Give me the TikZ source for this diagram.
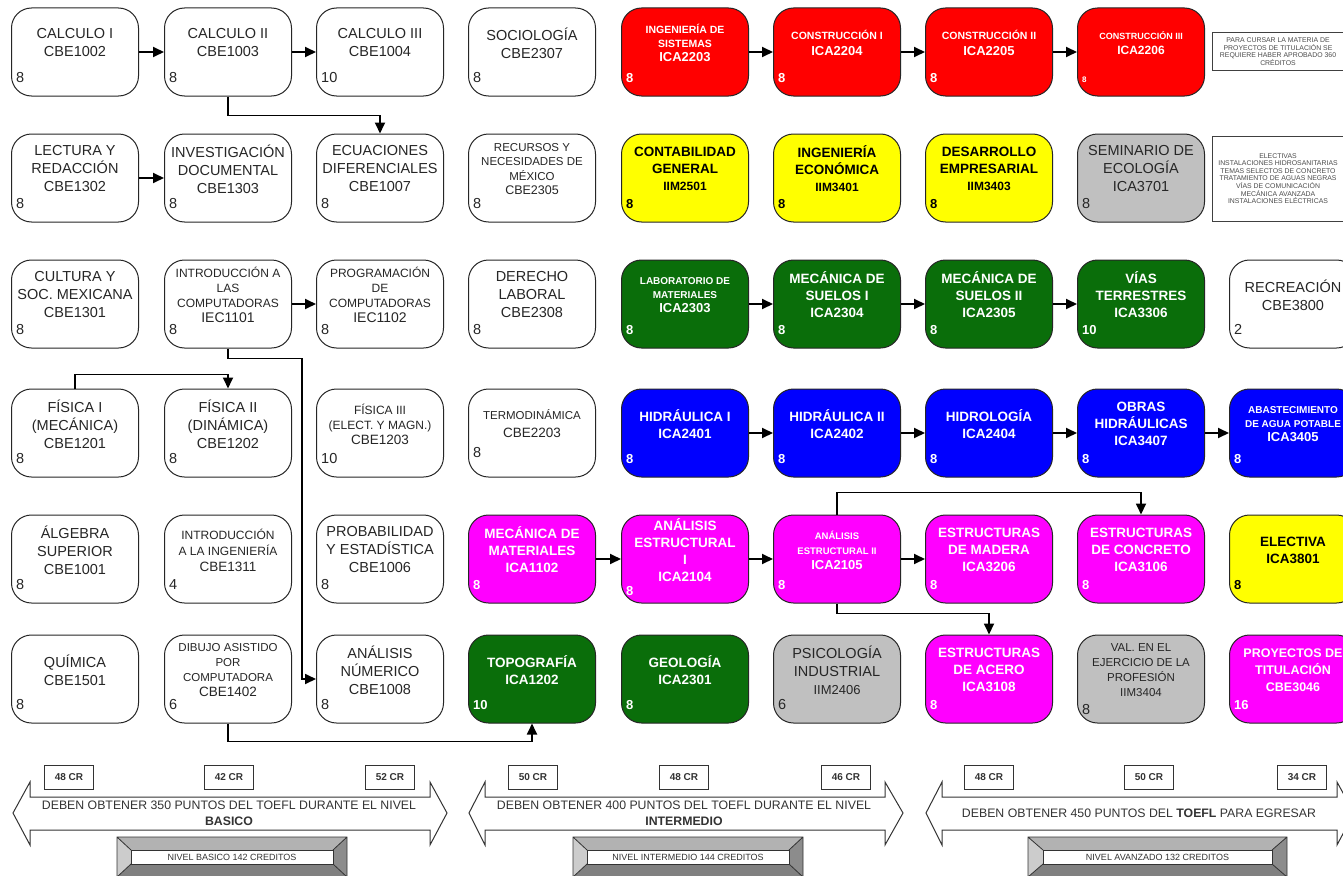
\documentclass[tikz,border=0pt]{standalone}
\usepackage{fontspec}
\setmainfont{Liberation Sans}
\usetikzlibrary{arrows.meta}
\newcommand\letra[2]{\fontsize{#1}{#2}\selectfont}
\definecolor{rojo}{RGB}{255,0,0}
\definecolor{amarillo}{RGB}{255,255,0}
\definecolor{verde}{RGB}{10,110,10}
\definecolor{azul}{RGB}{0,0,255}
\definecolor{rosa}{RGB}{255,0,255}
\definecolor{grisclaro}{RGB}{192,192,192}
\begin{document}
\begin{tikzpicture}[x=1pt, y=-1pt,
	mat/.style={draw=black!85, line width=1pt, rounded corners=20pt, minimum width=127pt, minimum height=88pt, inner sep=0pt},
	mblanca/.style={mat, fill=white},
	mroja/.style={mat, fill=rojo},
	mamarilla/.style={mat, fill=amarillo},
	mverde/.style={mat, fill=verde},
	mazul/.style={mat, fill=azul},
	mrosa/.style={mat, fill=rosa},
	mgris/.style={mat, fill=grisclaro},
	tn/.style={anchor=center, yshift=9pt, align=center, inner sep=0pt, text=black!85, font=\letra{14.5}{18}},
	tb/.style={tn, text=black, font=\bfseries\letra{13.5}{17}},
	tw/.style={tb, text=white},
	cn/.style={anchor=south west, inner sep=0pt, xshift=5pt, yshift=14pt, text=black!85, font=\letra{14.5}{18}},
	cb/.style={cn, text=black, font=\bfseries\letra{13}{16}},
	cw/.style={cb, text=white},
	flecha/.style={-{Triangle[length=11pt, width=10pt]}, line width=1.8pt, draw=black},
	nota/.style={draw=black!75, line width=1pt, align=center, inner sep=0pt, text=black!70, font=\letra{6.9}{7.6}},
	cred/.style={draw=black!80, line width=1pt, fill=white, minimum width=49pt, minimum height=24pt, inner sep=0pt, text=black!80, font=\bfseries\letra{10}{12}},
	banda/.style={draw=black!80, line width=1pt, fill=white},
	aviso/.style={align=center, inner sep=0pt, text=black!80, font=\letra{12.3}{16}},
	placa/.style={draw=black!80, line width=.6pt, fill=white, minimum height=14pt, inner sep=0pt, text=black!80, font=\letra{9}{11}},
]
	\path[use as bounding box, clip] (0,0) rectangle (1343,875);
	\fill[white] (0,0) rectangle (1343,875);

	\node[mblanca, label={[tn]center:{CALCULO I\\CBE1002}}, label={[cn]south west:8}] (cbe1002) at (75,52) {};
	\node[mblanca, label={[tn]center:{CALCULO II\\CBE1003}}, label={[cn]south west:8}] (cbe1003) at (228,52) {};
	\node[mblanca, label={[tn]center:{CALCULO III\\CBE1004}}, label={[cn]south west:10}] (cbe1004) at (380,52) {};
	\node[mblanca, label={[tn]center:{SOCIOLOGÍA\\CBE2307}}, label={[cn]south west:8}] (cbe2307) at (532,52) {};
	\node[mroja, label={[tw, font=\bfseries\letra{10.5}{14}]center:{INGENIERÍA DE\\SISTEMAS\\{\letra{13}{16}ICA2203}}}, label={[cw]south west:8}] (ica2203) at (685,52) {};
	\node[mroja, label={[tw, font=\bfseries\letra{10.5}{16}]center:{CONSTRUCCIÓN I\\{\letra{13}{16}ICA2204}}}, label={[cw]south west:8}] (ica2204) at (837,52) {};
	\node[mroja, label={[tw, font=\bfseries\letra{10.5}{16}]center:{CONSTRUCCIÓN II\\{\letra{13}{16}ICA2205}}}, label={[cw]south west:8}] (ica2205) at (989,52) {};
	\node[mroja, label={[tw, font=\bfseries\letra{9}{15}]center:{CONSTRUCCIÓN III\\{\letra{12}{15}ICA2206}}}, label={[cw, font=\bfseries\letra{8}{10}]south west:8}] (ica2206) at (1141,52) {};
	\node[nota, minimum width=131pt, minimum height=37pt] (nota1) at (1278,51.5) {PARA CURSAR LA MATERIA DE\\PROYECTOS DE TITULACIÓN SE\\REQUIERE HABER APROBADO 360\\CRÉDITOS};

	\node[mblanca, label={[tn]center:{LECTURA Y\\REDACCIÓN\\CBE1302}}, label={[cn]south west:8}] (cbe1302) at (75,178) {};
	\node[mblanca, label={[tn]center:{INVESTIGACIÓN\\DOCUMENTAL\\CBE1303}}, label={[cn]south west:8}] (cbe1303) at (228,178) {};
	\node[mblanca, label={[tn]center:{ECUACIONES\\DIFERENCIALES\\CBE1007}}, label={[cn]south west:8}] (cbe1007) at (380,178) {};
	\node[mblanca, label={[tn, font=\letra{11.5}{14.5}]center:{RECURSOS Y\\NECESIDADES DE\\MÉXICO\\{\letra{12.5}{15}CBE2305}}}, label={[cn]south west:8}] (cbe2305) at (532,178) {};
	\node[mamarilla, label={[tb]center:{CONTABILIDAD\\GENERAL\\{\letra{12}{15}IIM2501}}}, label={[cb]south west:8}] (iim2501) at (685,178) {};
	\node[mamarilla, label={[tb]center:{INGENIERÍA\\ECONÓMICA\\{\letra{12}{15}IIM3401}}}, label={[cb]south west:8}] (iim3401) at (837,178) {};
	\node[mamarilla, label={[tb]center:{DESARROLLO\\EMPRESARIAL\\{\letra{12}{15}IIM3403}}}, label={[cb]south west:8}] (iim3403) at (989,178) {};
	\node[mgris, label={[tn]center:{SEMINARIO DE\\ECOLOGÍA\\ICA3701}}, label={[cn]south west:8}] (ica3701) at (1141,178) {};
	\node[nota, minimum width=131pt, minimum height=85pt] (nota2) at (1278,178.5) {ELECTIVAS\\INSTALACIONES HIDROSANITARIAS\\TEMAS SELECTOS DE CONCRETO\\TRATAMIENTO DE AGUAS NEGRAS\\VÍAS DE COMUNICACIÓN\\MECÁNICA AVANZADA\\INSTALACIONES ELÉCTRICAS};

	\node[mblanca, label={[tn]center:{CULTURA Y\\SOC. MEXICANA\\CBE1301}}, label={[cn]south west:8}] (cbe1301) at (75,304) {};
	\node[mblanca, label={[tn, font=\letra{12}{15}]center:{INTRODUCCIÓN A\\LAS\\COMPUTADORAS\\{\letra{14}{17}IEC1101}}}, label={[cn]south west:8}] (iec1101) at (228,304) {};
	\node[mblanca, label={[tn, font=\letra{12}{15}]center:{PROGRAMACIÓN\\DE\\COMPUTADORAS\\{\letra{14}{17}IEC1102}}}, label={[cn]south west:8}] (iec1102) at (380,304) {};
	\node[mblanca, label={[tn]center:{DERECHO\\LABORAL\\CBE2308}}, label={[cn]south west:8}] (cbe2308) at (532,304) {};
	\node[mverde, label={[tw, font=\bfseries\letra{10}{14}]center:{LABORATORIO DE\\MATERIALES\\{\letra{13}{16}ICA2303}}}, label={[cw]south west:8}] (ica2303) at (685,304) {};
	\node[mverde, label={[tw]center:{MECÁNICA DE\\SUELOS I\\ICA2304}}, label={[cw]south west:8}] (ica2304) at (837,304) {};
	\node[mverde, label={[tw]center:{MECÁNICA DE\\SUELOS II\\ICA2305}}, label={[cw]south west:8}] (ica2305) at (989,304) {};
	\node[mverde, label={[tw]center:{VÍAS\\TERRESTRES\\ICA3306}}, label={[cw]south west:10}] (ica3306) at (1141,304) {};
	\node[mblanca, label={[tn]center:{RECREACIÓN\\CBE3800}}, label={[cn]south west:2}] (cbe3800) at (1293,304) {};

	\node[mblanca, label={[tn]center:{FÍSICA I\\(MECÁNICA)\\CBE1201}}, label={[cn]south west:8}] (cbe1201) at (75,433) {};
	\node[mblanca, label={[tn]center:{FÍSICA II\\(DINÁMICA)\\CBE1202}}, label={[cn]south west:8}] (cbe1202) at (228,433) {};
	\node[mblanca, label={[tn, font=\letra{12}{15}]center:{FÍSICA III\\(ELECT. Y MAGN.)\\{\letra{13.5}{16}CBE1203}}}, label={[cn]south west:10}] (cbe1203) at (380,433) {};
	\node[mblanca, label={[tn, font=\letra{11.5}{18}]center:{TERMODINÁMICA\\{\letra{13.5}{18}CBE2203}}}, label={[cn, yshift=6pt]south west:8}] (cbe2203) at (532,433) {};
	\node[mazul, label={[tw]center:{HIDRÁULICA I\\ICA2401}}, label={[cw]south west:8}] (ica2401) at (685,433) {};
	\node[mazul, label={[tw]center:{HIDRÁULICA II\\ICA2402}}, label={[cw]south west:8}] (ica2402) at (837,433) {};
	\node[mazul, label={[tw]center:{HIDROLOGÍA\\ICA2404}}, label={[cw]south west:8}] (ica2404) at (989,433) {};
	\node[mazul, label={[tw]center:{OBRAS\\HIDRÁULICAS\\ICA3407}}, label={[cw]south west:8}] (ica3407) at (1141,433) {};
	\node[mazul, label={[tw, font=\bfseries\letra{10}{14}]center:{ABASTECIMIENTO\\DE AGUA POTABLE\\{\letra{13}{16}ICA3405}}}, label={[cw]south west:8}] (ica3405) at (1293,433) {};

	\node[mblanca, label={[tn]center:{ÁLGEBRA\\SUPERIOR\\CBE1001}}, label={[cn]south west:8}] (cbe1001) at (75,559) {};
	\node[mblanca, label={[tn, font=\letra{12}{16}]center:{INTRODUCCIÓN\\A LA INGENIERÍA\\{\letra{13.5}{16}CBE1311}}}, label={[cn]south west:4}] (cbe1311) at (228,559) {};
	\node[mblanca, label={[tn]center:{PROBABILIDAD\\Y ESTADÍSTICA\\CBE1006}}, label={[cn]south west:8}] (cbe1006) at (380,559) {};
	\node[mrosa, label={[tw]center:{MECÁNICA DE\\MATERIALES\\ICA1102}}, label={[cw]south west:8}] (ica1102) at (532,559) {};
	\node[mrosa, label={[tw]center:{ANÁLISIS\\ESTRUCTURAL\\I\\ICA2104}}, label={[cw, yshift=-6pt]south west:8}] (ica2104) at (685,559) {};
	\node[mrosa, label={[tw, font=\bfseries\letra{9.5}{15}]center:{ANÁLISIS\\ESTRUCTURAL II\\{\letra{13}{16}ICA2105}}}, label={[cw]south west:8}] (ica2105) at (837,559) {};
	\node[mrosa, label={[tw]center:{ESTRUCTURAS\\DE MADERA\\ICA3206}}, label={[cw]south west:8}] (ica3206) at (989,559) {};
	\node[mrosa, label={[tw]center:{ESTRUCTURAS\\DE CONCRETO\\ICA3106}}, label={[cw]south west:8}] (ica3106) at (1141,559) {};
	\node[mamarilla, label={[tb]center:{ELECTIVA\\ICA3801}}, label={[cb]south west:8}] (ica3801) at (1293,559) {};

	\node[mblanca, label={[tn]center:{QUÍMICA\\CBE1501}}, label={[cn]south west:8}] (cbe1501) at (75,679) {};
	\node[mblanca, label={[tn, font=\letra{11.5}{15}]center:{DIBUJO ASISTIDO\\POR\\COMPUTADORA\\{\letra{13.5}{16}CBE1402}}}, label={[cn]south west:6}] (cbe1402) at (228,679) {};
	\node[mblanca, label={[tn]center:{ANÁLISIS\\NÚMERICO\\CBE1008}}, label={[cn]south west:8}] (cbe1008) at (380,679) {};
	\node[mverde, label={[tw]center:{TOPOGRAFÍA\\ICA1202}}, label={[cw]south west:10}] (ica1202) at (532,679) {};
	\node[mverde, label={[tw]center:{GEOLOGÍA\\ICA2301}}, label={[cw]south west:8}] (ica2301) at (685,679) {};
	\node[mgris, label={[tn]center:{PSICOLOGÍA\\INDUSTRIAL\\{\letra{13}{16}IIM2406}}}, label={[cn]south west:6}] (iim2406) at (837,679) {};
	\node[mrosa, label={[tw]center:{ESTRUCTURAS\\DE ACERO\\ICA3108}}, label={[cw]south west:8}] (ica3108) at (989,679) {};
	\node[mgris, label={[tn, font=\letra{11.5}{15}]center:{VAL. EN EL\\EJERCICIO DE LA\\PROFESIÓN\\IIM3404}}, label={[cn, yshift=-5pt]south west:8}] (iim3404) at (1141,679) {};
	\node[mrosa, label={[tw, font=\bfseries\letra{12.5}{17}]center:{PROYECTOS DE\\TITULACIÓN\\CBE3046}}, label={[cw]south west:16}] (cbe3046) at (1293,679) {};

	\draw[flecha] (cbe1002.east) -- (cbe1003.west);
	\draw[flecha] (cbe1003.east) -- (cbe1004.west);
	\draw[flecha] (cbe1003.south) -- ++(0,19) -| (cbe1007.north);
	\draw[flecha] (cbe1302.east) -- (cbe1303.west);
	\draw[flecha] (iec1101.east) -- (iec1102.west);
	\draw[flecha] (iec1101.south) -- ++(0,10) -| ([xshift=-14pt]cbe1008.west) -- (cbe1008.west);
	\draw[flecha] (cbe1201.north) -- ++(0,-14) -| (cbe1202.north);
	\draw[flecha] (cbe1402.south) -- ++(0,18) -| (ica1202.south);
	\draw[flecha] (ica2203.east) -- (ica2204.west);
	\draw[flecha] (ica2204.east) -- (ica2205.west);
	\draw[flecha] (ica2205.east) -- (ica2206.west);
	\draw[flecha] (ica2303.east) -- (ica2304.west);
	\draw[flecha] (ica2304.east) -- (ica2305.west);
	\draw[flecha] (ica2305.east) -- (ica3306.west);
	\draw[flecha] (ica2401.east) -- (ica2402.west);
	\draw[flecha] (ica2402.east) -- (ica2404.west);
	\draw[flecha] (ica2404.east) -- (ica3407.west);
	\draw[flecha] (ica3407.east) -- (ica3405.west);
	\draw[flecha] (ica1102.east) -- (ica2104.west);
	\draw[flecha] (ica2104.east) -- (ica2105.west);
	\draw[flecha] (ica2105.east) -- (ica3206.west);
	\draw[flecha] (ica2105.north) -- ++(0,-22) -| (ica3106.north);
	\draw[flecha] (ica2105.south) -- ++(0,10) -| (ica3108.north);

	\draw[banda] (13,813) -- (30,782) -- (30,797) -- (430,797) -- (430,782) -- (447,813) -- (430,845) -- (430,830) -- (30,830) -- (30,845) -- cycle;
	\draw[banda] (469,813) -- (485,782) -- (485,797) -- (885,797) -- (885,782) -- (903,813) -- (885,845) -- (885,830) -- (485,830) -- (485,845) -- cycle;
	\draw[banda] (926,813) -- (942,782) -- (942,797) -- (1337,797) -- (1337,782) -- (1354,813) -- (1337,845) -- (1337,830) -- (942,830) -- (942,845) -- cycle;
	\node[aviso] (toefl1) at (229,813) {DEBEN OBTENER 350 PUNTOS DEL TOEFL DURANTE EL NIVEL\\\textbf{BASICO}};
	\node[aviso] (toefl2) at (684,813) {DEBEN OBTENER 400 PUNTOS DEL TOEFL DURANTE EL NIVEL\\\textbf{INTERMEDIO}};
	\node[aviso] (toefl3) at (1139,813) {DEBEN OBTENER 450 PUNTOS DEL \textbf{TOEFL} PARA EGRESAR};

	\node[cred] (cr1) at (69,777) {48 CR};
	\node[cred] (cr2) at (229,777) {42 CR};
	\node[cred] (cr3) at (390,777) {52 CR};
	\node[cred] (cr4) at (533,777) {50 CR};
	\node[cred] (cr5) at (684,777) {48 CR};
	\node[cred] (cr6) at (846,777) {46 CR};
	\node[cred] (cr7) at (989,777) {48 CR};
	\node[cred] (cr8) at (1149,777) {50 CR};
	\node[cred] (cr9) at (1302,777) {34 CR};

	\fill[black!50] (117,837) rectangle (347,877);
	\fill[black!30] (117,837) -- (347,837) -- (333,850) -- (131,850) -- cycle;
	\fill[black!20] (117,837) -- (131,850) -- (131,864) -- (117,877) -- cycle;
	\fill[black!45] (347,837) -- (333,850) -- (333,864) -- (347,877) -- cycle;
	\draw[black!80, line width=.8pt] (117,837) rectangle (347,877) (117,837) -- (131,850) (347,837) -- (333,850) (117,877) -- (131,864) (347,877) -- (333,864);
	\node[placa, minimum width=202pt] (nivel1) at (232,857) {NIVEL BASICO 142 CREDITOS};
	\fill[black!50] (573,837) rectangle (803,877);
	\fill[black!30] (573,837) -- (803,837) -- (789,850) -- (587,850) -- cycle;
	\fill[black!20] (573,837) -- (587,850) -- (587,864) -- (573,877) -- cycle;
	\fill[black!45] (803,837) -- (789,850) -- (789,864) -- (803,877) -- cycle;
	\draw[black!80, line width=.8pt] (573,837) rectangle (803,877) (573,837) -- (587,850) (803,837) -- (789,850) (573,877) -- (587,864) (803,877) -- (789,864);
	\node[placa, minimum width=202pt] (nivel2) at (688,857) {NIVEL INTERMEDIO 144 CREDITOS};
	\fill[black!50] (1028,837) rectangle (1287,877);
	\fill[black!30] (1028,837) -- (1287,837) -- (1272,850) -- (1043,850) -- cycle;
	\fill[black!20] (1028,837) -- (1043,850) -- (1043,864) -- (1028,877) -- cycle;
	\fill[black!45] (1287,837) -- (1272,850) -- (1272,864) -- (1287,877) -- cycle;
	\draw[black!80, line width=.8pt] (1028,837) rectangle (1287,877) (1028,837) -- (1043,850) (1287,837) -- (1272,850) (1028,877) -- (1043,864) (1287,877) -- (1272,864);
	\node[placa, minimum width=229pt] (nivel3) at (1157.5,857) {NIVEL AVANZADO 132 CREDITOS};
\end{tikzpicture}
\end{document}
